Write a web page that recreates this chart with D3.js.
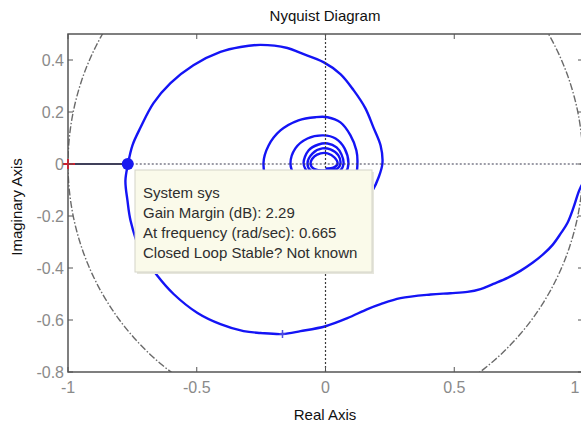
<!DOCTYPE html>
<html><head><meta charset="utf-8">
<script src="https://cdn.jsdelivr.net/npm/d3@7"></script>
<style>html,body{margin:0;padding:0;background:#fff;}svg{display:block;}</style>
</head><body>
<svg id="chart" width="581" height="423"></svg>
<script>
// ---- data ----
const curveRe = [1.010,0.990,0.982,0.963,0.940,0.913,0.882,0.847,0.804,0.757,0.707,0.652,0.602,0.551,0.485,0.408,0.291,0.214,0.163,0.085,0.000,-0.097,-0.167,-0.252,-0.318,-0.408,-0.497,-0.590,-0.652,-0.718,-0.757,-0.769,-0.777,-0.767,-0.750,-0.718,-0.668,-0.602,-0.513,-0.408,-0.330,-0.252,-0.148,-0.097,-0.008,0.058,0.109,0.155,0.186,0.214,0.221,0.206,0.183,0.155,0.097,0.000,-0.097,-0.175,-0.221,-0.241,-0.221,-0.175,-0.105,-0.039,0.008,0.058,0.097,0.120,0.124,0.117,0.078,0.000,-0.078,-0.120,-0.136,-0.117,-0.070,-0.008,0.039,0.074,0.089,0.078,0.039,-0.019,-0.066,-0.085,-0.066,-0.027,0.008,0.043,0.062,0.070,0.058,0.000,-0.058,-0.070,-0.050,-0.012,0.019,0.050,0.058,0.047,0.000,-0.047,-0.058,-0.043,-0.019,0.008,0.035,0.047,0.031,0.000];
const curveIm = [-0.056,-0.091,-0.110,-0.168,-0.226,-0.268,-0.311,-0.346,-0.380,-0.411,-0.438,-0.461,-0.481,-0.492,-0.497,-0.502,-0.516,-0.539,-0.558,-0.593,-0.624,-0.643,-0.654,-0.650,-0.643,-0.616,-0.573,-0.500,-0.431,-0.334,-0.218,-0.141,-0.064,0.000,0.071,0.141,0.234,0.311,0.380,0.431,0.450,0.458,0.446,0.427,0.392,0.346,0.284,0.214,0.141,0.071,0.002,-0.052,-0.102,-0.141,-0.199,-0.226,-0.210,-0.160,-0.083,0.002,0.071,0.129,0.168,0.180,0.180,0.160,0.110,0.052,0.002,-0.044,-0.083,-0.102,-0.083,-0.044,0.002,0.060,0.098,0.110,0.098,0.060,0.002,-0.033,-0.056,-0.056,-0.033,0.002,0.052,0.075,0.079,0.064,0.037,0.002,-0.025,-0.041,-0.025,0.002,0.041,0.060,0.056,0.033,0.002,-0.017,-0.025,-0.017,0.002,0.029,0.041,0.041,0.025,0.002,-0.014,-0.017];
const xTicks = [-1, -0.5, 0, 0.5, 1];
const xTickLabels = ["-1", "-0.5", "0", "0.5", "1"];
const yTicks = [-0.8, -0.6, -0.4, -0.2, 0, 0.2, 0.4];
const yTickLabels = ["-0.8", "-0.6", "-0.4", "-0.2", "0", "0.2", "0.4"];
const gmCross = [-0.768, 0];      // gain-margin crossing point
const criticalPoint = [-1, 0];
const freqMarker = [-0.167, -0.654];
const tipLines = ["System sys", "Gain Margin (dB): 2.29", "At frequency (rad/sec): 0.665", "Closed Loop Stable? Not known"];

// ---- layout ----
const svg = d3.select("#chart");
const L = 68, R = 583, T = 34, B = 372;
const x = d3.scaleLinear().domain([-1, 1]).range([L, R]);
const y = d3.scaleLinear().domain([-0.8, 0.5]).range([B, T]);
const FONT = "'Liberation Sans', Arial, sans-serif";

svg.append("defs").append("clipPath").attr("id","clip")
  .append("rect").attr("x", L).attr("y", T).attr("width", R - L).attr("height", B - T);

const plot = svg.append("g").attr("clip-path", "url(#clip)");

// unit circle
const circ = d3.range(0, 361, 1).map(a => [Math.cos(a*Math.PI/180), Math.sin(a*Math.PI/180)]);
plot.append("path")
  .attr("d", d3.line().x(d => x(d[0])).y(d => y(d[1]))(circ))
  .attr("fill", "none").attr("stroke", "#6a6a6a").attr("stroke-width", 1.4)
  .attr("stroke-dasharray", "7,2,1.5,2");

// Nyquist curve
const pts = curveRe.map((r, i) => [r, curveIm[i]]);
plot.append("path")
  .attr("d", d3.line().x(d => x(d[0])).y(d => y(d[1])).curve(d3.curveCatmullRom.alpha(0.5))(pts))
  .attr("fill", "none").attr("stroke", "#1414f5").attr("stroke-width", 2.4)
  .attr("stroke-linejoin", "round");

// small frequency marker
plot.append("path")
  .attr("d", `M${x(freqMarker[0])-3},${y(freqMarker[1])}h6M${x(freqMarker[0])},${y(freqMarker[1])-4}v8`)
  .attr("stroke", "#5050e0").attr("stroke-width", 1.5);

// tooltip box
const box = svg.append("g");
box.append("rect").attr("x", 137).attr("y", 172).attr("width", 237).attr("height", 102)
  .attr("fill", "#e6e6dc");
box.append("rect").attr("x", 135).attr("y", 170).attr("width", 237).attr("height", 102)
  .attr("fill", "#fafaea").attr("stroke", "#d4d4c8").attr("stroke-width", 1);
box.selectAll("text").data(tipLines).join("text")
  .attr("x", 143).attr("y", (d, i) => 198 + i * 20)
  .attr("font-family", FONT).attr("font-size", 15).attr("fill", "#2e2e2e")
  .text(d => d);

// zero lines (dotted)
plot.append("line").attr("x1", x(gmCross[0])).attr("x2", R).attr("y1", y(0)).attr("y2", y(0))
  .attr("stroke", "#3a3a50").attr("stroke-width", 1.2).attr("stroke-dasharray", "2,2");
plot.append("line").attr("x1", x(0)).attr("x2", x(0)).attr("y1", T).attr("y2", B)
  .attr("stroke", "#3a3a3a").attr("stroke-width", 1.2).attr("stroke-dasharray", "2,2");

// gain margin segment
plot.append("line").attr("x1", x(criticalPoint[0])).attr("x2", x(gmCross[0]))
  .attr("y1", y(0)).attr("y2", y(0)).attr("stroke", "#40405a").attr("stroke-width", 2);
// crossing dot
svg.append("circle").attr("cx", x(gmCross[0])).attr("cy", y(gmCross[1])).attr("r", 6)
  .attr("fill", "#1a1af0");

// frame
svg.append("rect").attr("x", L).attr("y", T).attr("width", R - L).attr("height", B - T)
  .attr("fill", "none").attr("stroke", "#555").attr("stroke-width", 1.5);

// critical point (on top of the frame)
svg.append("path")
  .attr("d", `M${x(criticalPoint[0])-6},${y(criticalPoint[1])}h13M${x(criticalPoint[0])},${y(criticalPoint[1])-5}v10`)
  .attr("stroke", "#cc2030").attr("stroke-width", 1.8);

// ticks (inward, all sides)
const tk = svg.append("g").attr("stroke", "#555").attr("stroke-width", 1);
xTicks.forEach(v => {
  tk.append("line").attr("x1", x(v)).attr("x2", x(v)).attr("y1", B).attr("y2", B - 5);
  tk.append("line").attr("x1", x(v)).attr("x2", x(v)).attr("y1", T).attr("y2", T + 5);
});
yTicks.forEach(v => {
  tk.append("line").attr("x1", L).attr("x2", L + 5).attr("y1", y(v)).attr("y2", y(v));
  tk.append("line").attr("x1", R).attr("x2", R - 5).attr("y1", y(v)).attr("y2", y(v));
});

// tick labels
svg.append("g").selectAll("text").data(xTicks).join("text")
  .attr("x", d => Math.min(x(d), 575)).attr("y", 393).attr("text-anchor", "middle")
  .attr("font-family", FONT).attr("font-size", 16).attr("fill", "#8a8a8a")
  .text((d, i) => xTickLabels[i]);
svg.append("g").selectAll("text").data(yTicks).join("text")
  .attr("x", 64).attr("y", d => y(d)).attr("dy", "0.36em").attr("text-anchor", "end")
  .attr("font-family", FONT).attr("font-size", 16).attr("fill", "#8a8a8a")
  .text((d, i) => yTickLabels[i]);

// titles
svg.append("text").attr("x", 325).attr("y", 21).attr("text-anchor", "middle")
  .attr("font-family", FONT).attr("font-size", 15).attr("fill", "#111").text("Nyquist Diagram");
svg.append("text").attr("x", 325).attr("y", 420).attr("text-anchor", "middle")
  .attr("font-family", FONT).attr("font-size", 15).attr("fill", "#111").text("Real Axis");
svg.append("text").attr("transform", "translate(22,207) rotate(-90)").attr("text-anchor", "middle")
  .attr("font-family", FONT).attr("font-size", 15).attr("fill", "#111").text("Imaginary Axis");
</script>
</body></html>
